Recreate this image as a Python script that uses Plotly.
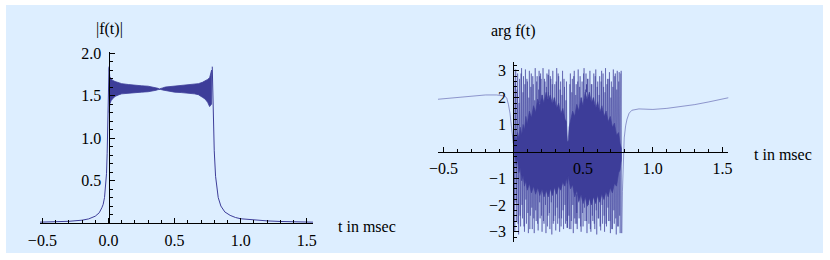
import numpy as np
import plotly.graph_objects as go

W, H = 830, 260
LINE = "#3D3D99"
LIGHT = "rgba(61,61,153,0.5)"
BG = "#DDEEFF"
FONT = "Liberation Serif, Times New Roman, serif"

# ---------------- |f(t)| panel data ----------------
abs_left_t = [-0.52, -0.4, -0.3, -0.2, -0.15, -0.1, -0.07, -0.05, -0.04, -0.03,
              -0.02, -0.015, -0.01, -0.005, 0.0, 0.004]
abs_left_v = [0.010, 0.014, 0.020, 0.033, 0.048, 0.08, 0.12, 0.18, 0.22, 0.30,
              0.45, 0.58, 0.82, 1.2, 1.6, 1.84]

band_t = [0.005, 0.01, 0.02, 0.03, 0.05, 0.08, 0.1, 0.15, 0.2, 0.25, 0.3, 0.34, 0.36,
          0.375, 0.385, 0.395, 0.41, 0.43, 0.46, 0.5, 0.55, 0.6, 0.65, 0.68, 0.71,
          0.73, 0.75, 0.765, 0.78]
band_upper = [1.82, 1.72, 1.70, 1.68, 1.665, 1.65, 1.64, 1.63, 1.62, 1.615, 1.61, 1.60, 1.595,
              1.585, 1.578, 1.58, 1.59, 1.60, 1.605, 1.61, 1.615, 1.62, 1.63, 1.64, 1.655,
              1.67, 1.69, 1.71, 1.80]
band_lower = [1.30, 1.40, 1.44, 1.46, 1.49, 1.51, 1.52, 1.53, 1.535, 1.54, 1.545, 1.555, 1.562,
              1.57, 1.575, 1.572, 1.565, 1.555, 1.548, 1.54, 1.535, 1.53, 1.52, 1.51, 1.48,
              1.46, 1.42, 1.37, 1.40]

abs_right_t = [0.785, 0.79, 0.80, 0.81, 0.82, 0.83, 0.85, 0.88, 0.92, 0.96, 1.0, 1.1,
               1.2, 1.3, 1.4, 1.55]
abs_right_v = [1.84, 1.40, 0.85, 0.55, 0.40, 0.30, 0.20, 0.13, 0.09, 0.065, 0.05, 0.035,
               0.025, 0.018, 0.014, 0.010]

# ---------------- arg f(t) panel data ----------------
arg_left_t = [-0.54, -0.5, -0.4, -0.3, -0.2, -0.12, -0.08, -0.06, -0.047, -0.035,
              -0.024, -0.012, -0.005, 0.0]
arg_left_v = [1.94, 1.96, 2.02, 2.07, 2.1, 2.1, 2.09, 2.06, 1.98, 1.75,
              1.42, 0.88, 0.5, 0.3]

arg_osc_t = [0.003, 0.010, 0.017, 0.024, 0.031, 0.038, 0.045, 0.052, 0.059, 0.066,
             0.073, 0.080, 0.087, 0.094, 0.101, 0.108, 0.115, 0.122, 0.129, 0.136,
             0.143, 0.150, 0.157, 0.164, 0.171, 0.178, 0.185, 0.192, 0.199, 0.206,
             0.213, 0.220, 0.227, 0.234, 0.241, 0.248, 0.255, 0.262, 0.269, 0.276,
             0.283, 0.290, 0.297, 0.304, 0.311, 0.318, 0.325, 0.332, 0.339, 0.346,
             0.353, 0.360, 0.367, 0.374, 0.381, 0.388, 0.395, 0.402, 0.409, 0.416,
             0.423, 0.430, 0.437, 0.444, 0.451, 0.458, 0.465, 0.472, 0.479, 0.486,
             0.493, 0.500, 0.507, 0.514, 0.521, 0.528, 0.535, 0.542, 0.549, 0.556,
             0.563, 0.570, 0.577, 0.584, 0.591, 0.598, 0.605, 0.612, 0.619, 0.626,
             0.633, 0.640, 0.647, 0.654, 0.661, 0.668, 0.675, 0.682, 0.689, 0.696,
             0.703, 0.710, 0.717, 0.724, 0.731, 0.738, 0.745, 0.752, 0.759, 0.766,
             0.773]
arg_osc_v = [3.1, -3.0, 3.05, -2.6, 2.9, -3.1, 2.7, -2.8, 3.1, -2.5,
             2.8, -3.0, 3.05, -2.7, 2.6, -3.05, 3.0, -2.4, 2.9, -2.9,
             2.5, -3.05, 3.1, -2.6, 2.8, -2.95, 3.0, -2.5, 2.7, -3.0,
             3.1, -2.7, 2.6, -3.05, 2.9, -2.4, 3.05, -2.9, 2.7, -3.1,
             3.0, -2.6, 2.5, -2.95, 3.1, -2.7, 2.8, -3.0, 2.6, -2.5,
             3.0, -2.9, 2.4, -2.7, 2.6, -2.85, 0.4, -2.9, 2.9, -2.6,
             2.7, -3.05, 3.0, -2.7, 2.5, -2.9, 3.05, -2.5, 2.8, -3.0,
             2.6, -2.8, 3.1, -2.6, 2.9, -3.05, 2.7, -2.7, 3.0, -3.0,
             2.5, -2.6, 2.9, -2.9, 3.05, -3.1, 2.6, -2.5, 2.8, -2.95,
             3.0, -2.7, 2.4, -3.0, 3.1, -2.8, 2.7, -2.6, 2.95, -3.05,
             2.6, -2.9, 3.05, -2.7, 2.9, -3.1, 3.0, -2.8, 2.95, -3.05,
             3.0]

arg_osc2_t = [0.0065, 0.0135, 0.0205, 0.0275, 0.0345, 0.0415, 0.0485, 0.0555, 0.0625, 0.0695,
              0.0765, 0.0835, 0.0905, 0.0975, 0.1045, 0.1115, 0.1185, 0.1255, 0.1325, 0.1395,
              0.1465, 0.1535, 0.1605, 0.1675, 0.1745, 0.1815, 0.1885, 0.1955, 0.2025, 0.2095,
              0.2165, 0.2235, 0.2305, 0.2375, 0.2445, 0.2515, 0.2585, 0.2655, 0.2725, 0.2795,
              0.2865, 0.2935, 0.3005, 0.3075, 0.3145, 0.3215, 0.3285, 0.3355, 0.3425, 0.3495,
              0.3565, 0.3635, 0.3705, 0.3775, 0.3845, 0.3915, 0.3985, 0.4055, 0.4125, 0.4195,
              0.4265, 0.4335, 0.4405, 0.4475, 0.4545, 0.4615, 0.4685, 0.4755, 0.4825, 0.4895,
              0.4965, 0.5035, 0.5105, 0.5175, 0.5245, 0.5315, 0.5385, 0.5455, 0.5525, 0.5595,
              0.5665, 0.5735, 0.5805, 0.5875, 0.5945, 0.6015, 0.6085, 0.6155, 0.6225, 0.6295,
              0.6365, 0.6435, 0.6505, 0.6575, 0.6645, 0.6715, 0.6785, 0.6855, 0.6925, 0.6995,
              0.7065, 0.7135, 0.7205, 0.7275, 0.7345, 0.7415, 0.7485, 0.7555, 0.7625, 0.7695]
arg_osc2_v = [-2.2, 2.6, -1.9, 2.3, -2.7, 1.8, -2.4, 2.9, -2.0, 2.2,
              -2.8, 2.5, -1.8, 2.7, -2.3, 2.0, -2.9, 2.4, -2.1, 2.8,
              -2.5, 1.9, -2.2, 2.6, -2.7, 2.3, -1.9, 2.9, -2.4, 2.1,
              -2.6, 2.7, -2.0, 2.4, -2.8, 2.2, -2.3, 2.8, -1.9, 2.5,
              -2.7, 2.0, -2.4, 2.6, -2.1, 2.9, -2.5, 2.3, -2.8, 2.1,
              -2.2, 2.7, -2.0, 1.9, -2.6, 0.3, -2.4, 2.5, -2.9, 2.2,
              -2.0, 2.8, -2.5, 2.1, -2.7, 2.6, -1.9, 2.4, -2.8, 2.0,
              -2.3, 2.9, -2.1, 2.3, -2.6, 2.7, -2.0, 2.2, -2.9, 2.5,
              -2.4, 2.0, -2.7, 2.8, -2.2, 2.4, -2.5, 2.1, -2.8, 2.6,
              -2.0, 2.9, -2.4, 2.2, -2.7, 2.5, -2.1, 2.7, -2.6, 2.0,
              -2.9, 2.4, -2.2, 2.8, -2.5, 2.3, -2.8, 2.6, -2.4, 2.9]

core_t = [0.0, 0.01, 0.02, 0.03, 0.04, 0.05, 0.06, 0.07, 0.08, 0.09, 0.10, 0.115, 0.13,
          0.145, 0.16, 0.175, 0.19, 0.205, 0.22, 0.235, 0.25, 0.265, 0.28, 0.295, 0.31,
          0.325, 0.34, 0.355, 0.37, 0.38, 0.387, 0.393, 0.40, 0.41, 0.425, 0.44, 0.455,
          0.47, 0.485, 0.50, 0.515, 0.53, 0.545, 0.56, 0.575, 0.59, 0.605, 0.62, 0.635,
          0.65, 0.665, 0.68, 0.695, 0.71, 0.725, 0.74, 0.755, 0.765, 0.775]
core_hi = [0.3, 0.6, 0.35, 0.7, 0.5, 0.9, 0.6, 1.0, 0.8, 1.3, 1.0, 1.5, 1.25,
           1.7, 1.45, 1.95, 1.7, 2.1, 1.8, 2.2, 1.9, 2.1, 1.75, 2.0, 1.6,
           1.8, 1.4, 1.6, 1.2, 1.1, 0.4, 0.35, 0.9, 1.2, 1.5, 1.3, 1.75,
           1.5, 2.0, 1.7, 2.2, 1.9, 2.2, 1.8, 2.0, 1.6, 1.85, 1.45, 1.7,
           1.3, 1.5, 1.1, 1.3, 0.9, 1.05, 0.6, 0.7, 0.3, 0.1]
core_lo = [0.2, -0.2, -0.5, -0.3, -0.8, -0.6, -1.1, -0.9, -1.3, -1.1, -1.45, -1.2, -1.55,
           -1.3, -1.6, -1.35, -1.65, -1.4, -1.7, -1.45, -1.7, -1.4, -1.65, -1.35, -1.6,
           -1.3, -1.45, -1.15, -1.3, -1.0, -1.2, -0.9, -1.1, -1.4, -1.25, -1.7, -1.45,
           -1.85, -1.6, -1.95, -1.7, -2.05, -1.75, -2.0, -1.7, -1.95, -1.65, -1.9, -1.6,
           -1.8, -1.5, -1.7, -1.35, -1.55, -1.2, -1.3, -0.8, -0.7, -0.3]

dark_spike_t = [0.19, 0.25, 0.386, 0.455, 0.525]
dark_spike_from = [1.8, 2.0, -1.0, -1.6, 2.2]
dark_spike_to = [2.8, 2.85, -2.85, -2.3, 2.5]

arg_right_t = [0.777, 0.782, 0.788, 0.795, 0.805, 0.815, 0.83, 0.85, 0.9, 1.0, 1.1,
               1.2, 1.3, 1.4, 1.5, 1.545]
arg_right_v = [-3.05, -1.5, -0.3, 0.5, 0.95, 1.2, 1.42, 1.53, 1.58, 1.56, 1.6,
               1.66, 1.74, 1.84, 1.95, 2.0]

# tick labels
abs_xticks = [-0.5, 0.0, 0.5, 1.0, 1.5]
abs_xtext = ["\u22120.5", "0.0", "0.5", "1.0", "1.5"]
abs_yticks = [0.5, 1.0, 1.5, 2.0]
abs_ytext = ["0.5", "1.0", "1.5", "2.0"]
arg_xticks = [-0.5, 0.5, 1.0, 1.5]
arg_xtext = ["\u22120.5", "0.5", "1.0", "1.5"]
arg_yticks = [-3, -2, -1, 1, 2, 3]
arg_ytext = ["\u22123", "\u22122", "\u22121", "1", "2", "3"]


def minor_vals(lo, hi, step, majors):
    vals = np.round(np.arange(lo, hi + step / 2, step), 4)
    return [float(v) for v in vals if all(abs(v - m) > 1e-6 for m in majors) and abs(v) > 1e-6]


fig = go.Figure()

# |f(t)|
fig.add_trace(go.Scatter(x=abs_left_t, y=abs_left_v, mode="lines",
                         line=dict(color=LINE, width=1), xaxis="x", yaxis="y"))
fig.add_trace(go.Scatter(x=band_t + band_t[::-1], y=band_upper + band_lower[::-1],
                         mode="lines", fill="toself", fillcolor=LINE,
                         line=dict(color=LINE, width=0.8), xaxis="x", yaxis="y"))
fig.add_trace(go.Scatter(x=abs_right_t, y=abs_right_v, mode="lines",
                         line=dict(color=LINE, width=1), xaxis="x", yaxis="y"))

# arg f(t)
fig.add_trace(go.Scatter(x=arg_osc_t, y=arg_osc_v, mode="lines",
                         line=dict(color=LIGHT, width=1), xaxis="x2", yaxis="y2"))
fig.add_trace(go.Scatter(x=arg_osc2_t, y=arg_osc2_v, mode="lines",
                         line=dict(color=LIGHT, width=1), xaxis="x2", yaxis="y2"))
fig.add_trace(go.Scatter(x=core_t + core_t[::-1], y=core_hi + core_lo[::-1],
                         mode="lines", fill="toself", fillcolor=LINE,
                         line=dict(color=LINE, width=0.6), xaxis="x2", yaxis="y2"))
sx, sy = [], []
for t, a, b in zip(dark_spike_t, dark_spike_from, dark_spike_to):
    sx += [t, t, None]
    sy += [a, b, None]
fig.add_trace(go.Scatter(x=sx, y=sy, mode="lines", line=dict(color=LINE, width=1),
                         xaxis="x2", yaxis="y2"))
fig.add_trace(go.Scatter(x=arg_left_t, y=arg_left_v, mode="lines",
                         line=dict(color=LIGHT, width=1), xaxis="x2", yaxis="y2"))
fig.add_trace(go.Scatter(x=[arg_osc_t[-1]] + arg_right_t, y=[arg_osc_v[-1]] + arg_right_v,
                         mode="lines", line=dict(color=LIGHT, width=1), xaxis="x2", yaxis="y2"))

tickfont = dict(family=FONT, size=16, color="black")
common = dict(showgrid=False, zeroline=False, showline=True, linecolor="black", linewidth=1,
              ticks="inside", tickcolor="black", tickwidth=1, ticklen=5,
              tickmode="array", tickfont=tickfont, automargin=False)

fig.update_layout(
    width=W, height=H, margin=dict(l=0, r=0, t=0, b=0, pad=0, autoexpand=False),
    paper_bgcolor="white", plot_bgcolor="rgba(0,0,0,0)", showlegend=False,
    xaxis=dict(domain=[40 / W, 313 / W], range=[-0.518, 1.547], anchor="y",
               tickvals=abs_xticks, ticktext=abs_xtext, ticklabelstandoff=3,
               minor=dict(tickvals=minor_vals(-0.5, 1.5, 0.1, abs_xticks), ticks="inside",
                          ticklen=3, tickcolor="black"), **common),
    yaxis=dict(domain=[1 - 223 / H, 1 - 51.7 / H], range=[0, 2.016], anchor="free",
               position=108.5 / W, tickvals=abs_yticks, ticktext=abs_ytext,
               ticklabelstandoff=4,
               minor=dict(tickvals=minor_vals(0.1, 2.0, 0.1, abs_yticks), ticks="inside",
                          ticklen=3, tickcolor="black"), **common),
    xaxis2=dict(domain=[437.7 / W, 728.3 / W], range=[-0.542, 1.541], anchor="free",
                position=1 - 151.5 / H, tickvals=arg_xticks, ticktext=arg_xtext,
                ticklabelstandoff=2,
                minor=dict(tickvals=minor_vals(-0.5, 1.5, 0.1, arg_xticks + [0.0]),
                           ticks="inside", ticklen=3, tickcolor="black"), **common),
    yaxis2=dict(domain=[1 - 241.7 / H, 1 - 61.7 / H], range=[-3.37, 3.34], anchor="free",
                position=513.3 / W, tickvals=arg_yticks, ticktext=arg_ytext,
                ticklabelstandoff=4,
                minor=dict(tickvals=minor_vals(-3.2, 3.2, 0.2, arg_yticks), ticks="inside",
                           ticklen=3, tickcolor="black"), **common),
    shapes=[dict(type="rect", xref="paper", yref="paper", x0=6 / W, x1=823 / W,
                 y0=1 - 253 / H, y1=1 - 5 / H, fillcolor=BG, line=dict(width=0),
                 layer="below")],
    annotations=[
        dict(text="|f(t)|", x=109 / W, y=1 - 29 / H, xref="paper", yref="paper",
             showarrow=False, xanchor="center", yanchor="middle",
             font=dict(family=FONT, size=16, color="black")),
        dict(text="t in msec", x=336 / W, y=1 - 226 / H, xref="paper", yref="paper",
             showarrow=False, xanchor="left", yanchor="middle",
             font=dict(family=FONT, size=16, color="black")),
        dict(text="arg f(t)", x=513 / W, y=1 - 31 / H, xref="paper", yref="paper",
             showarrow=False, xanchor="center", yanchor="middle",
             font=dict(family=FONT, size=16, color="black")),
        dict(text="t in msec", x=752 / W, y=1 - 154 / H, xref="paper", yref="paper",
             showarrow=False, xanchor="left", yanchor="middle",
             font=dict(family=FONT, size=16, color="black")),
    ],
)

fig.write_html("out.html", config=dict(displayModeBar=False),
               post_script="document.body.style.margin='0';document.body.style.overflow='hidden';")
